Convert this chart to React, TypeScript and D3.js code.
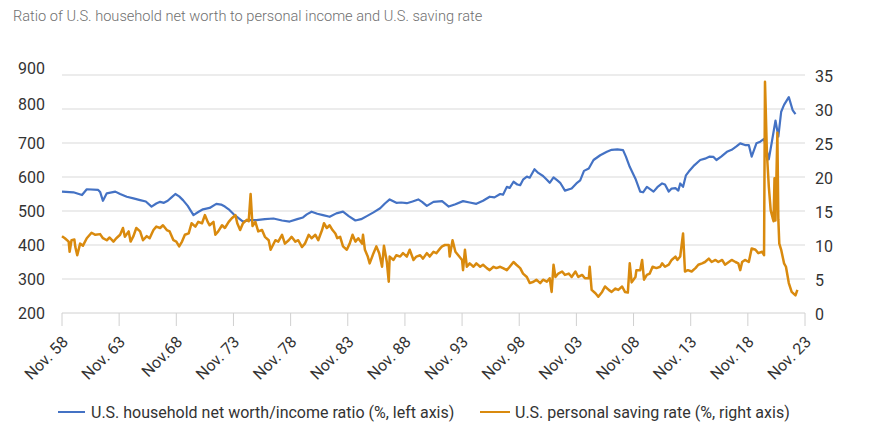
import React from "react";
import * as d3 from "d3";

const TITLE = "Ratio of U.S. household net worth to personal income and U.S. saving rate";

// x values are months since Nov. 1958
const xTickMonths = [0, 60, 120, 180, 240, 300, 360, 420, 480, 540, 600, 660, 720, 780];
const xTickLabels = ["Nov. 58", "Nov. 63", "Nov.68", "Nov. 73", "Nov. 78", "Nov. 83", "Nov. 88", "Nov. 93", "Nov. 98", "Nov. 03", "Nov. 08", "Nov. 13", "Nov. 18", "Nov. 23"];
const leftTicks = [200, 300, 400, 500, 600, 700, 800, 900];
const rightTicks = [0, 5, 10, 15, 20, 25, 30, 35];
const leftLabelShift = [0, 0, 0, 0, 0, 0, -5, -7];

const seriesNames = ["U.S. household net worth/income ratio (%, left axis)", "U.S. personal saving rate (%, right axis)"];
const seriesColors = ["#4472c4", "#d98a0e"];

// U.S. household net worth / income ratio (%), [month, value]
const netWorthRatio: [number, number][] = [
  [0, 557], [12, 555], [21, 547], [26, 564], [38, 562], [40, 556], [43, 530], [47, 552], [56, 557], [61, 550],
  [68, 542], [75, 537], [82, 532], [88, 528], [94, 513], [99, 522], [103, 527], [107, 524], [111, 530], [115, 540],
  [119, 550], [123, 543], [127, 532], [132, 515], [138, 488], [143, 497], [148, 505], [155, 509], [162, 521], [167, 519],
  [171, 513], [175, 505], [180, 491], [185, 480], [190, 469], [197, 473], [204, 473], [213, 476], [222, 478], [231, 472],
  [239, 469], [247, 476], [253, 481], [257, 490], [262, 498], [268, 492], [274, 488], [281, 483], [288, 493], [295, 498],
  [301, 485], [308, 472], [314, 476], [320, 485], [327, 496], [334, 508], [339, 522], [344, 534], [351, 524], [356, 525],
  [362, 523], [368, 528], [374, 534], [378, 527], [383, 515], [390, 527], [399, 529], [406, 513], [413, 520], [421, 529],
  [428, 525], [435, 521], [442, 530], [449, 542], [454, 540], [460, 550], [463, 548], [467, 571], [470, 568], [474, 586],
  [478, 578], [481, 576], [484, 592], [488, 601], [491, 598], [496, 623], [500, 612], [505, 603], [509, 592], [512, 583],
  [516, 599], [520, 590], [523, 583], [528, 560], [535, 566], [540, 581], [544, 590], [548, 618], [553, 625], [558, 650],
  [565, 664], [572, 674], [577, 680], [583, 681], [589, 679], [592, 660], [596, 630], [602, 595], [607, 557], [610, 555],
  [614, 571], [617, 565], [621, 557], [625, 570], [630, 581], [633, 578], [637, 557], [640, 566], [644, 567], [647, 560],
  [649, 581], [652, 571], [655, 605], [658, 616], [664, 635], [670, 650], [675, 654], [680, 660], [684, 659], [687, 650],
  [692, 660], [698, 674], [703, 680], [708, 690], [712, 699], [717, 694], [721, 694], [724, 660], [729, 699], [733, 704],
  [737, 712], [742, 652], [745, 700], [749, 766], [752, 719], [755, 792], [758, 812], [763, 835], [767, 797], [770, 785],
];

// U.S. personal saving rate (%), [month, value]
const savingRate: [number, number][] = [
  [0, 11.3], [3, 11.0], [7, 10.5], [8, 9.0], [10, 10.7], [13, 10.8], [14, 9.7], [16, 8.5], [19, 10.2], [22, 9.9],
  [26, 11.0], [31, 11.8], [35, 11.5], [40, 11.6], [43, 11.0], [47, 10.7], [50, 11.1], [54, 10.5], [57, 11.0], [61, 11.5],
  [64, 12.5], [66, 11.2], [70, 12.0], [72, 10.5], [75, 11.3], [78, 12.5], [82, 12.0], [85, 10.7], [89, 11.3], [92, 11.0],
  [96, 12.2], [99, 12.7], [103, 12.5], [106, 12.9], [110, 12.2], [113, 12.0], [117, 10.7], [120, 10.5], [123, 9.8], [126, 10.5],
  [129, 11.5], [133, 11.7], [136, 13.2], [140, 12.7], [143, 13.4], [147, 13.2], [150, 14.4], [153, 13.4], [155, 12.9], [159, 13.4],
  [161, 11.5], [164, 12.0], [168, 12.9], [171, 12.5], [175, 13.4], [178, 13.9], [182, 14.4], [184, 13.2], [187, 12.2], [190, 13.2],
  [194, 13.7], [196, 13.5], [198, 17.5], [200, 12.8], [203, 13.4], [206, 12.0], [210, 12.2], [213, 11.2], [217, 10.7], [219, 9.3],
  [224, 10.7], [227, 10.5], [231, 11.5], [234, 10.2], [238, 10.7], [241, 11.2], [245, 10.5], [248, 10.7], [252, 9.7], [255, 10.2],
  [259, 11.5], [262, 11.0], [266, 11.5], [269, 10.7], [273, 12.2], [275, 13.2], [278, 12.5], [281, 12.9], [284, 12.2], [287, 11.7],
  [289, 11.0], [292, 11.2], [295, 9.8], [299, 9.3], [302, 10.2], [305, 11.5], [308, 10.5], [311, 11.0], [315, 10.2], [316, 11.5],
  [318, 9.3], [321, 8.3], [323, 7.3], [327, 8.8], [330, 9.8], [333, 8.8], [336, 6.8], [338, 9.9], [341, 7.5], [343, 4.6],
  [344, 8.3], [348, 7.8], [351, 8.5], [355, 8.3], [358, 8.8], [362, 8.3], [365, 9.3], [369, 7.8], [372, 8.3], [376, 8.5],
  [379, 8.0], [383, 8.8], [386, 8.3], [390, 9.0], [393, 8.8], [397, 9.5], [399, 9.8], [402, 10.0], [406, 10.0], [407, 8.3],
  [410, 10.7], [413, 9.0], [416, 8.5], [420, 7.8], [421, 6.3], [423, 9.3], [425, 6.8], [428, 7.3], [432, 6.8], [435, 7.3],
  [439, 6.8], [442, 7.1], [446, 6.6], [449, 6.3], [453, 6.8], [456, 6.6], [460, 6.8], [463, 6.6], [467, 6.3], [470, 6.8],
  [474, 7.5], [477, 7.1], [481, 6.6], [484, 5.8], [488, 5.3], [491, 4.4], [495, 4.6], [498, 4.9], [502, 4.4], [505, 4.9],
  [509, 4.6], [512, 5.1], [514, 3.1], [516, 7.1], [518, 5.3], [521, 5.8], [525, 6.1], [528, 5.6], [532, 5.8], [535, 5.3],
  [539, 6.1], [542, 5.3], [546, 5.6], [549, 5.1], [553, 5.1], [554, 6.8], [556, 3.4], [560, 2.9], [563, 2.4], [567, 3.1],
  [570, 3.9], [574, 3.4], [577, 3.1], [581, 3.6], [584, 3.4], [588, 3.9], [591, 3.1], [594, 3.0], [596, 7.3], [598, 4.5],
  [602, 5.3], [603, 6.3], [607, 6.3], [609, 7.8], [611, 4.9], [614, 5.6], [617, 5.8], [620, 6.8], [624, 6.6], [628, 6.8],
  [630, 7.3], [633, 6.8], [637, 7.1], [640, 7.8], [644, 8.3], [646, 7.8], [649, 8.3], [652, 11.7], [654, 6.1], [657, 6.3],
  [661, 6.1], [665, 6.6], [668, 7.1], [672, 7.3], [675, 7.5], [679, 8.0], [682, 7.5], [686, 7.8], [689, 7.5], [693, 7.8],
  [696, 7.1], [700, 7.5], [703, 7.8], [707, 7.5], [710, 7.3], [712, 6.3], [714, 7.5], [717, 7.8], [721, 7.5], [724, 9.5],
  [728, 9.3], [731, 8.8], [735, 9.0], [737, 8.5], [738, 34.0], [740, 23.5], [742, 18.6], [744, 15.1], [746, 14.0], [747, 13.5],
  [748, 19.8], [749, 13.6], [751, 26.5], [752, 13.8], [753, 10.2], [755, 9.3], [758, 7.3], [760, 6.8], [763, 4.4], [766, 3.1],
  [770, 2.6], [772, 3.4],
];

const W = 873;
const H = 447;
const FONT = "Roboto, 'Open Sans', sans-serif";

export default function App() {
  const x = d3.scaleLinear().domain([0, 780]).range([62, 805]);
  const yL = d3.scaleLinear().domain([200, 900]).range([313, 75]);
  const yR = d3.scaleLinear().domain([0, 35]).range([313, 75]);

  const lineL = d3.line<[number, number]>().x((d) => x(d[0])).y((d) => yL(d[1]));
  const lineR = d3.line<[number, number]>().x((d) => x(d[0])).y((d) => yR(d[1]));

  return (
    <div style={{ position: "fixed", left: 0, top: 0, width: W, height: H, background: "#fff" }}>
      <svg width={W} height={H} style={{ display: "block", fontFamily: FONT }}>
        <rect width={W} height={H} fill="#ffffff" />
        <text x={13} y={21} fontSize={14.6} fontWeight={300} fill="#707070">{TITLE}</text>

        {/* gridlines */}
        {leftTicks.slice(1).map((t) => (
          <line key={"g" + t} x1={x(0)} x2={x(780)} y1={yL(t)} y2={yL(t)} stroke="#d9d9d9" strokeWidth={1} />
        ))}
        {/* x axis */}
        <line x1={x(0)} x2={x(780)} y1={yL(200)} y2={yL(200)} stroke="#d0d0d0" strokeWidth={1} />
        {xTickMonths.map((m) => (
          <line key={"t" + m} x1={x(m)} x2={x(m)} y1={yL(200)} y2={yL(200) + 13} stroke="#d0d0d0" strokeWidth={1} />
        ))}
        {xTickMonths.map((m, i) => (
          <text
            key={"xl" + m}
            transform={`translate(${x(m) + 7},${343}) rotate(-45)`}
            textAnchor="end"
            fontSize={16}
            fill="#333"
          >
            {xTickLabels[i]}
          </text>
        ))}

        {/* left labels */}
        {leftTicks.map((t, i) => (
          <text key={"l" + t} x={45} y={yL(t) + leftLabelShift[i]} dy="0.35em" textAnchor="end" fontSize={16} fill="#333">
            {t}
          </text>
        ))}
        {/* right labels */}
        {rightTicks.map((t) => (
          <text key={"r" + t} x={815} y={yR(t) + 1} dy="0.35em" textAnchor="start" fontSize={16} fill="#333">
            {t}
          </text>
        ))}

        {/* series */}
        <path d={lineL(netWorthRatio) || ""} fill="none" stroke={seriesColors[0]} strokeWidth={2.2} strokeLinejoin="round" />
        <path d={lineR(savingRate) || ""} fill="none" stroke={seriesColors[1]} strokeWidth={2.5} strokeLinejoin="round" />

        {/* legend */}
        <line x1={58} x2={85} y1={412} y2={412} stroke={seriesColors[0]} strokeWidth={2} />
        <text x={91} y={412} dy="0.35em" fontSize={16} fill="#333">{seriesNames[0]}</text>
        <line x1={480} x2={510} y1={412} y2={412} stroke={seriesColors[1]} strokeWidth={2} />
        <text x={515} y={412} dy="0.35em" fontSize={16} fill="#333">{seriesNames[1]}</text>
      </svg>
    </div>
  );
}
